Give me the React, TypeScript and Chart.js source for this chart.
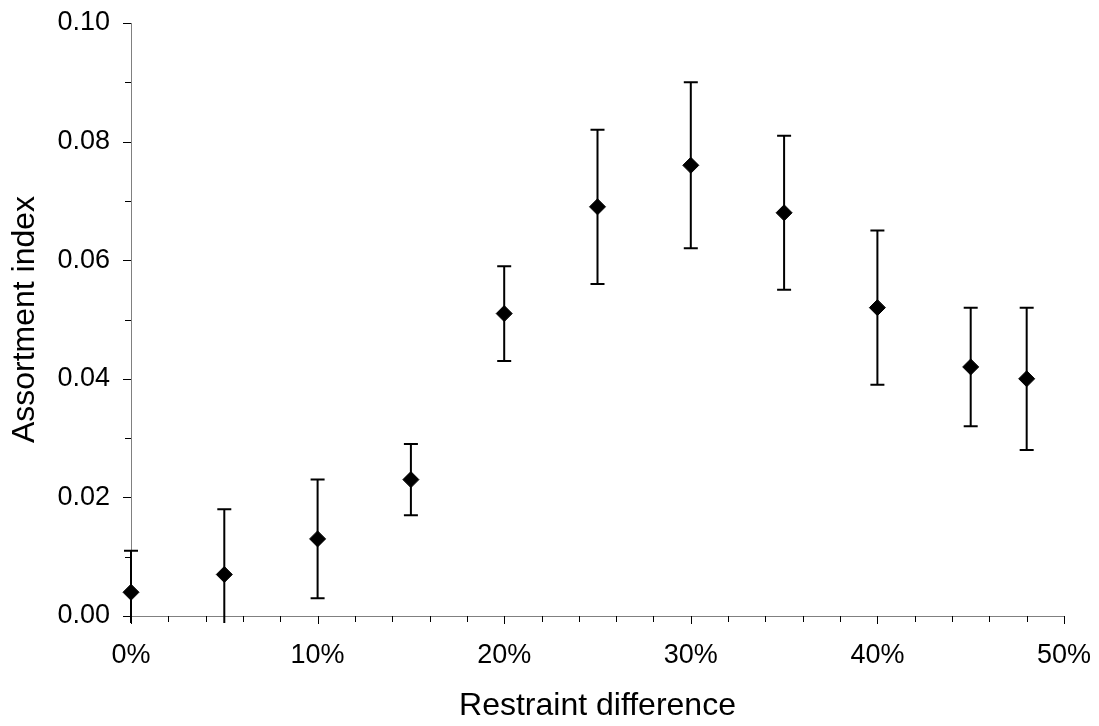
import React, { useEffect, useRef } from "react";
import { Chart, registerables } from "chart.js";

Chart.register(...registerables);

// Restraint difference (%)
const restraintDiff = [0, 5, 10, 15, 20, 25, 30, 35, 40, 45, 48];
// Assortment index (mean)
const assortment = [0.004, 0.007, 0.013, 0.023, 0.051, 0.069, 0.076, 0.068, 0.052, 0.042, 0.04];
// Error bar half-widths
const errors = [0.007, 0.011, 0.01, 0.006, 0.008, 0.013, 0.014, 0.013, 0.013, 0.01, 0.012];

const xTickLabels = ["0%", "10%", "20%", "30%", "40%", "50%"];
const yTickLabels = ["0.00", "0.02", "0.04", "0.06", "0.08", "0.10"];

const FONT = "'Liberation Sans', Arial, sans-serif";

const errorBarPlugin = {
  id: "errorBars",
  beforeDatasetsDraw(chart: any) {
    const { ctx, chartArea } = chart;
    const xs = chart.scales.x;
    const ys = chart.scales.y;
    const limit = chartArea.bottom + 7;
    ctx.save();
    ctx.strokeStyle = "#000";
    ctx.lineWidth = 2;
    restraintDiff.forEach((xv, i) => {
      const px = xs.getPixelForValue(xv);
      const top = ys.getPixelForValue(assortment[i] + errors[i]);
      let bot = ys.getPixelForValue(assortment[i] - errors[i]);
      let lowCap = true;
      if (bot > limit) {
        bot = limit;
        lowCap = false;
      }
      ctx.beginPath();
      ctx.moveTo(px, top);
      ctx.lineTo(px, bot);
      ctx.moveTo(px - 7, top);
      ctx.lineTo(px + 7, top);
      if (lowCap) {
        ctx.moveTo(px - 7, bot);
        ctx.lineTo(px + 7, bot);
      }
      ctx.stroke();
    });
    ctx.restore();
  },
};

const tickMarksPlugin = {
  id: "tickMarks",
  afterDraw(chart: any) {
    const { ctx, chartArea } = chart;
    const xs = chart.scales.x;
    const ys = chart.scales.y;
    ctx.save();
    ctx.strokeStyle = "#000";
    ctx.lineWidth = 1;
    ctx.beginPath();
    for (let k = 0; k <= 10; k++) {
      const v = k * 0.01;
      const py = Math.round(ys.getPixelForValue(v)) + 0.5;
      const len = k % 2 === 0 ? 8 : 6;
      ctx.moveTo(chartArea.left - len, py);
      ctx.lineTo(chartArea.left, py);
    }
    for (let k = 0; k <= 25; k++) {
      const v = k * 2;
      const px = Math.round(xs.getPixelForValue(v)) + 0.5;
      const len = v % 10 === 0 ? 8 : 6;
      ctx.moveTo(px, chartArea.bottom);
      ctx.lineTo(px, chartArea.bottom + len);
    }
    ctx.stroke();
    ctx.restore();
  },
};

const zeroPad = (s: any) => {
  s.paddingLeft = 0;
  s.paddingRight = 0;
  s.paddingTop = 0;
  s.paddingBottom = 0;
};

export default function App() {
  const ref = useRef<HTMLCanvasElement>(null);

  useEffect(() => {
    if (!ref.current) return;
    const chart = new Chart(ref.current, {
      type: "scatter",
      data: {
        datasets: [
          {
            data: restraintDiff.map((x, i) => ({ x, y: assortment[i] })),
            pointStyle: "rectRot",
            pointRadius: 8,
            pointHoverRadius: 8,
            backgroundColor: "#000",
            borderColor: "#000",
            borderWidth: 1,
            clip: false as any,
          },
        ],
      },
      options: {
        animation: false,
        responsive: false,
        maintainAspectRatio: false,
        events: [],
        layout: { padding: { left: 0, top: 23, right: 35, bottom: 0 } },
        plugins: {
          legend: { display: false },
          tooltip: { enabled: false },
        },
        scales: {
          x: {
            type: "linear",
            min: 0,
            max: 50,
            afterFit: (s: any) => {
              s.height = 110;
              zeroPad(s);
            },
            ticks: {
              stepSize: 2,
              autoSkip: false,
              maxRotation: 0,
              padding: 23,
              color: "#000",
              font: { family: FONT, size: 27 },
              callback: (v: any) => {
                const n = Number(v);
                return n % 10 === 0 ? xTickLabels[n / 10] : "";
              },
            },
            grid: { drawOnChartArea: false, drawTicks: false },
            border: { display: true, color: "#808080", width: 1 },
            title: {
              display: true,
              text: "Restraint difference",
              color: "#000",
              font: { family: FONT, size: 32 },
              padding: { top: 0, bottom: 1 },
            },
          },
          y: {
            type: "linear",
            min: 0,
            max: 0.1,
            afterFit: (s: any) => {
              s.width = 131;
              zeroPad(s);
            },
            ticks: {
              stepSize: 0.01,
              autoSkip: false,
              padding: 21,
              color: "#000",
              font: { family: FONT, size: 27 },
              callback: (v: any) => {
                const k = Math.round(Number(v) * 100);
                return k % 2 === 0 ? yTickLabels[k / 2] : "";
              },
            },
            grid: { drawOnChartArea: false, drawTicks: false },
            border: { display: true, color: "#808080", width: 1 },
            title: {
              display: true,
              text: "Assortment index",
              color: "#000",
              font: { family: FONT, size: 32 },
              padding: { top: 6, bottom: 0 },
            },
          },
        },
      },
      plugins: [errorBarPlugin, tickMarksPlugin],
    });
    return () => chart.destroy();
  }, []);

  return (
    <div style={{ position: "fixed", left: 0, top: 0, width: 1099, height: 726, background: "#fff" }}>
      <canvas ref={ref} width={1099} height={726} style={{ width: 1099, height: 726 }} />
    </div>
  );
}
